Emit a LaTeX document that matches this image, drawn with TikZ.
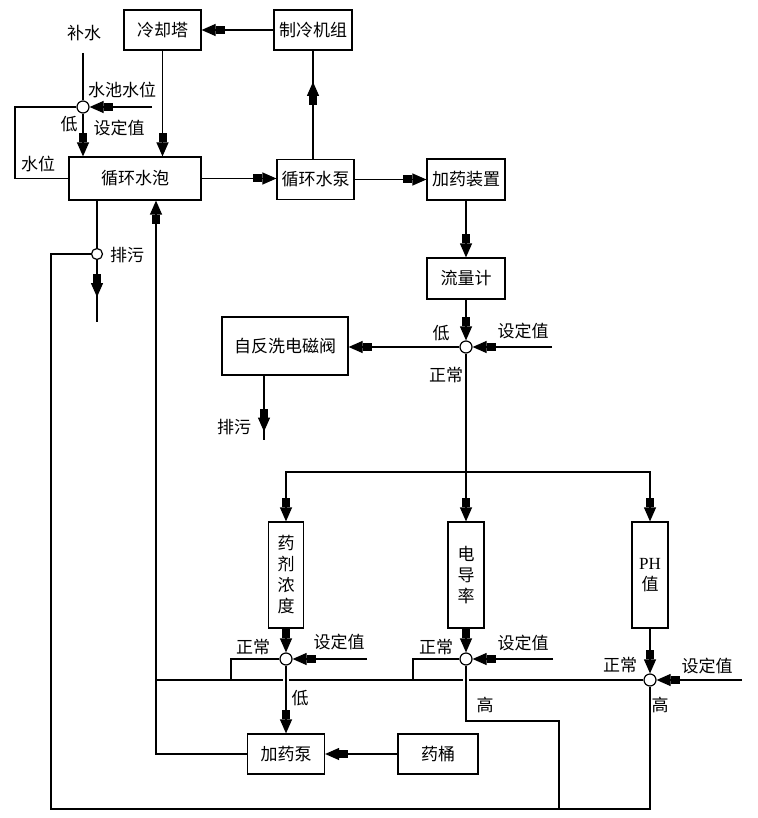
\documentclass[tikz,border=0pt]{standalone}
\usepackage{fontspec}
\setmainfont{Noto Sans CJK SC}
\newfontfamily\latinserif{Liberation Serif}
\usetikzlibrary{arrows.meta,decorations.markings}
\tikzset{
  ln/.style={line width=1.2pt},
  arr/.style={ln,-{Rectangle[length=9pt,width=8pt,sep=0pt]Triangle[length=14pt,width=12pt,sep=0pt]}},
  midarr/.style={ln,postaction={decorate,decoration={markings,mark=at position #1 with {\arrow{Rectangle[length=9pt,width=8pt,sep=0pt]Triangle[length=14pt,width=12pt,sep=0pt]}}}}},
  box/.style={draw,ln,inner sep=0pt,font=\fontsize{17}{21}\selectfont},
  jn/.style={circle,draw,ln,fill=white,minimum size=12pt,inner sep=0pt},
  lbl/.style={inner sep=0pt,font=\fontsize{17}{19}\selectfont}
}
\begin{document}
\begin{tikzpicture}[x=1pt,y=-1pt]
\useasboundingbox (0,0) rectangle (757,818);
% boxes
\node[box,minimum width=77pt,minimum height=40pt] (lqt) at (162.5,30) {冷却塔};
\node[box,minimum width=78pt,minimum height=40pt] (zlj) at (313,30) {制冷机组};
\node[box,minimum width=132pt,minimum height=43pt] (xhp) at (135,178.5) {循环水泡};
\node[box,minimum width=77pt,minimum height=40pt] (xhb) at (315.5,179.5) {循环水泵};
\node[box,minimum width=78pt,minimum height=41pt] (jyz) at (466,179.5) {加药装置};
\node[box,minimum width=78pt,minimum height=41pt] (llj) at (466,278.5) {流量计};
\node[box,minimum width=126pt,minimum height=58pt] (zfx) at (285,346) {自反洗电磁阀};
\node[box,minimum width=35pt,minimum height=106pt,align=center] (yj) at (286,575) {药\\剂\\浓\\度};
\node[box,minimum width=36pt,minimum height=106pt,align=center] (ddl) at (466,575) {电\\导\\率};
\node[box,minimum width=36pt,minimum height=106pt,align=center] (ph) at (650,575) {{\latinserif PH}\\值};
\node[box,minimum width=77pt,minimum height=40pt] (jyb) at (286,754) {加药泵};
\node[box,minimum width=80pt,minimum height=40pt] (yt) at (438,754) {药桶};
% junctions
\node[jn] (c0) at (83,107) {};
\node[jn,minimum size=11pt] (c1) at (97,254) {};
\node[jn] (c2) at (466,347) {};
\node[jn] (c3) at (286,659) {};
\node[jn] (c4) at (466,659) {};
\node[jn] (c5) at (650,680) {};
% free ends
\coordinate (bs) at (83,53);
\coordinate (sw) at (152,107);
\coordinate (lp) at (15,107);
\coordinate (sd2) at (552,347);
\coordinate (br) at (466,472);
\coordinate (pw1) at (97,322);
\coordinate (pw2) at (264,440);
\coordinate (sd3) at (367,659);
\coordinate (sd4) at (553,659);
\coordinate (sd5) at (742,680);
\coordinate (l3) at (231,680);
\coordinate (l4) at (413,680);
\coordinate (v1) at (156,680);
\coordinate (h4) at (466,721);
\coordinate (j4) at (559,809);
\coordinate (bl) at (51,809);
\coordinate (g1a) at (283,680);
\coordinate (g1b) at (289,680);
\coordinate (g2a) at (463,680);
\coordinate (g2b) at (469,680);
% connectors
\draw[arr] (zlj.west) -- (zlj.west -| lqt.east);
\draw[arr] (lqt.south) -- (lqt.south |- xhp.north);
\draw[ln] (bs) -- (c0.north);
\draw[arr] (c0.south) -- (c0 |- xhp.north);
\draw[arr] (sw) -- (c0.east);
\draw[ln] (c0.west) -- (lp) |- (xhp.west);
\draw[arr] (xhp.east) -- (xhp.east -| xhb.west);
\draw[arr] (xhb.east) -- (xhb.east -| jyz.west);
\draw[midarr=77pt] (zlj.south |- xhb.north) -- (zlj.south);
\draw[arr] (jyz.south) -- (llj.north);
\draw[arr] (llj.south) -- (c2.north);
\draw[arr] (sd2) -- (c2.east);
\draw[arr] (c2.west) -- (c2.west -| zfx.east);
\draw[ln] (c2.south) -- (br);
\draw[arr] (br) -- (ddl.north);
\draw[arr] (br) -| (yj.north);
\draw[arr] (br) -| (ph.north);
\draw[midarr=56pt] (pw2 |- zfx.south) -- (pw2);
\draw[ln] (c1 |- xhp.south) -- (c1.north);
\draw[midarr=37pt] (c1.south) -- (pw1);
\draw[ln] (c1.west) -| (bl) -- (j4);
\draw[ln] (j4) -- (bl -| c5) -- (c5.south);
\draw[ln] (c4.south) -- (h4) -| (j4);
\draw[arr] (yj.south) -- (c3.north);
\draw[arr] (ddl.south) -- (c4.north);
\draw[arr] (ph.south) -- (c5.north);
\draw[arr] (sd3) -- (c3.east);
\draw[arr] (sd4) -- (c4.east);
\draw[arr] (sd5) -- (c5.east);
\draw[ln] (c3.west) -| (l3);
\draw[ln] (c4.west) -| (l4);
\draw[ln] (c5.west) -- (g2b);
\draw[ln] (g2a) -- (g1b);
\draw[ln] (g1a) -- (v1);
\draw[arr] (jyb.west) -| (v1) -- (v1 |- xhp.south);
\draw[arr] (c3.south) -- (c3 |- jyb.north);
\draw[arr] (yt.west) -- (jyb.east);
% labels
\node[lbl] (t1) at (84,33) {补水};
\node[lbl] (t2) at (122,90) {水池水位};
\node[lbl] (t3) at (69,124) {低};
\node[lbl] (t4) at (119,128) {设定值};
\node[lbl] (t5) at (38,164) {水位};
\node[lbl] (t6) at (127,255) {排污};
\node[lbl] (t7) at (441,333) {低};
\node[lbl] (t8) at (523,331) {设定值};
\node[lbl] (t9) at (446,375) {正常};
\node[lbl] (t10) at (234,427) {排污};
\node[lbl] (t11) at (253,647) {正常};
\node[lbl] (t12) at (339,642) {设定值};
\node[lbl] (t13) at (436,647) {正常};
\node[lbl] (t14) at (523,643) {设定值};
\node[lbl] (t15) at (620,665) {正常};
\node[lbl] (t16) at (707,666) {设定值};
\node[lbl] (t17) at (300,698) {低};
\node[lbl] (t18) at (485,705) {高};
\node[lbl] (t19) at (660,705) {高};
\end{tikzpicture}
\end{document}
